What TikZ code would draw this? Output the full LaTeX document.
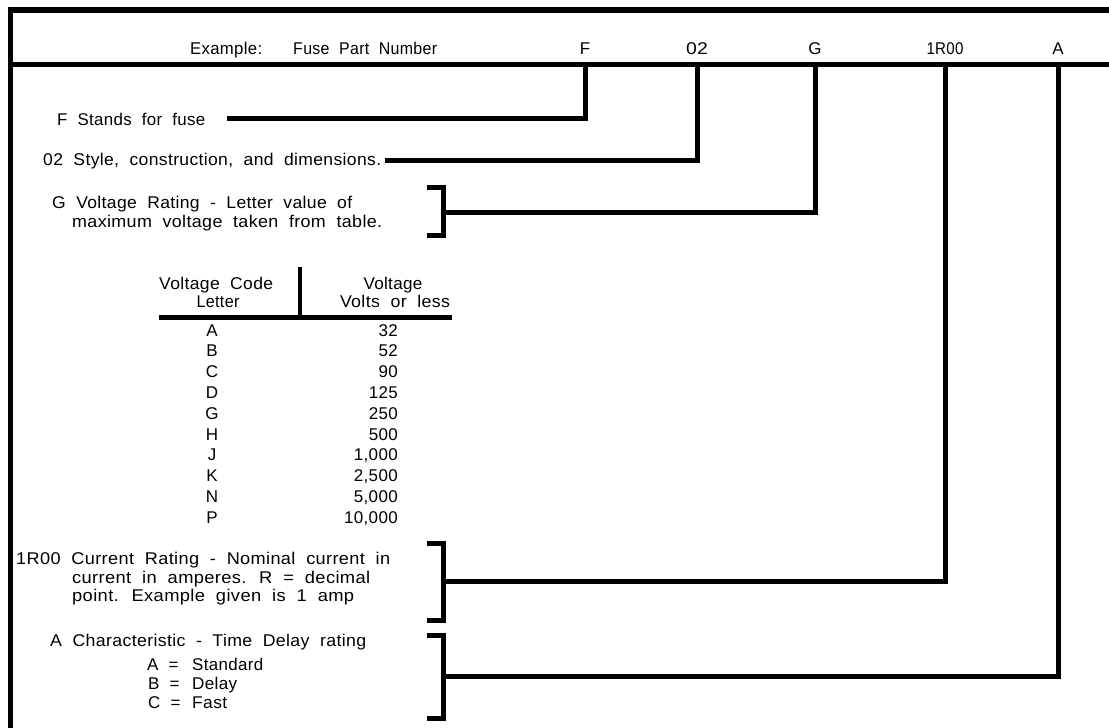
\documentclass[tikz,border=0pt]{standalone}
\usepackage{fontspec}
\setmainfont{Liberation Sans}[WordSpace=2,LetterSpace=2]
\usepackage{graphicx}
\newcommand\fitw[2]{\resizebox{#1pt}{\height}{#2}}
\begin{document}
\begin{tikzpicture}[x=1pt,y=-1pt,
  txt/.style={inner sep=0pt, anchor=base west, font=\fontsize{17}{20}\selectfont},
  txtc/.style={txt, anchor=base},
  txte/.style={txt, anchor=base east},
  border/.style={line width=5.5pt, line join=miter},
  conn/.style={line width=5pt, line join=miter},
  rule/.style={line width=5pt},
  thinrule/.style={line width=3.5pt}]
\useasboundingbox (0,0) rectangle (1109,728);
\fill[white] (0,0) rectangle (1109,728);

% frame
\draw[border] (1109,10) -- (10.5,10) -- (10.5,728);
\coordinate (sepL) at (10.5,64.5);
\coordinate (sep) at (1109,64.5);
\draw[rule] (sepL) -- (sep);

% header
\node[txt] (ex) at (190,54) {\fitw{72}{Example:}};
\node[txt] (fpn) at (293,54) {\fitw{144}{Fuse Part Number}};
\node[txtc] (hF) at (585,54) {F};
\node[txtc] (h02) at (697,54) {\fitw{22}{02}};
\node[txtc] (hG) at (815,54) {G};
\node[txtc] (hR) at (945,54) {\fitw{37}{1R00}};
\node[txtc] (hA) at (1058,54) {A};

% descriptions
\node[txt] (dF) at (57,125) {\fitw{148}{F Stands for fuse}};
\node[txt] (d02) at (43,165) {\fitw{338}{02 Style, construction, and dimensions.}};
\node[txt] (dG1) at (52,208) {\fitw{300}{G Voltage Rating - Letter value of}};
\node[txt] (dG2) at (72,227) {\fitw{310}{maximum voltage taken from table.}};
\node[txt] (dR1) at (16,564) {\fitw{374}{1R00 Current Rating - Nominal current in}};
\node[txt] (dR2) at (72,583) {\fitw{298}{current in amperes. R = decimal}};
\node[txt] (dR3) at (72,601) {\fitw{282}{point. Example given is 1 amp}};
\node[txt] (dA) at (50,646) {\fitw{316}{A Characteristic - Time Delay rating}};
\node[txt] (dA1) at (147,670) {\makebox[45pt][l]{A =}\fitw{71}{Standard}};
\node[txt] (dA2) at (148,689) {\makebox[44pt][l]{B =}\fitw{45}{Delay}};
\node[txt] (dA3) at (148,708) {\makebox[44pt][l]{C =}\fitw{35}{Fast}};

% table
\node[txt] (th1) at (159,289) {\fitw{114}{Voltage Code}};
\node[txtc] (th2) at (218,307) {\fitw{43}{Letter}};
\node[txtc] (th3) at (393,289) {\fitw{59}{Voltage}};
\node[txtc] (th4) at (395,307) {\fitw{110}{Volts or less}};
\draw[thinrule] (300,267) -- (300,317);
\draw[rule] (159,317) -- (452,317);
\foreach \l/\v [count=\i from 0] in {A/32,B/52,C/90,D/125,G/250,H/500,J/1{,}000,K/2{,}500,N/5{,}000,P/10{,}000}{
  \node[txtc] (tl\i) at ({212},{336+20.8*\i}) {\l};
  \node[txte] (tv\i) at ({398},{336+20.8*\i}) {\v};
}

% connector end points and brackets
\coordinate (eF) at (227,118.5);
\coordinate (e02) at (385,160);
\coordinate (gT) at (427,187);
\coordinate (gB) at (427,235);
\coordinate (gM) at (443,212);
\coordinate (rT) at (427,543);
\coordinate (rB) at (427,620);
\coordinate (rM) at (443,581);
\coordinate (aT) at (427,635);
\coordinate (aB) at (427,718);
\coordinate (aM) at (443,676);

\draw[conn] (gT) -| (gM) |- (gB);
\draw[conn] (rT) -| (rM) |- (rB);
\draw[conn] (aT) -| (aM) |- (aB);

\draw[conn] (hF |- sep) |- (eF);
\draw[conn] (h02 |- sep) |- (e02);
\draw[conn] (hG |- sep) |- (gM);
\draw[conn] (hR |- sep) |- (rM);
\draw[conn] (hA |- sep) |- (aM);
\end{tikzpicture}
\end{document}
